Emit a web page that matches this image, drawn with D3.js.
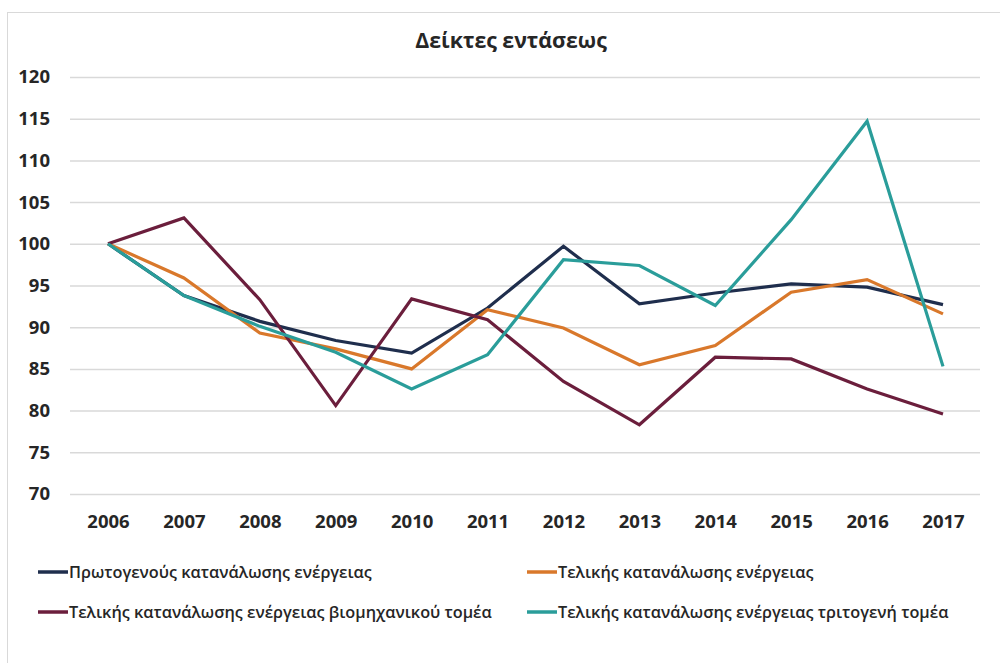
<!DOCTYPE html>
<html><head><meta charset="utf-8">
<script src="https://cdn.jsdelivr.net/npm/d3@7"></script>
<style>body{margin:0;background:#fff;}svg{display:block;font-family:"Open Sans",sans-serif;}</style>
</head><body><svg id="c" width="1000" height="663"></svg>
<script>
const years = ["2006","2007","2008","2009","2010","2011","2012","2013","2014","2015","2016","2017"];
const primary = [100, 93.8, 90.7, 88.4, 86.9, 92.3, 99.7, 92.8, 94.1, 95.2, 94.8, 92.7];
const finalTotal = [100, 95.9, 89.3, 87.4, 85.0, 92.1, 89.9, 85.5, 87.8, 94.2, 95.7, 91.6];
const industry = [100, 103.1, 93.3, 80.6, 93.4, 90.9, 83.5, 78.3, 86.4, 86.2, 82.6, 79.6];
const tertiary = [100, 93.8, 90.1, 87.0, 82.6, 86.7, 98.1, 97.4, 92.6, 102.9, 114.7, 85.3];
const yTicks = [70, 75, 80, 85, 90, 95, 100, 105, 110, 115, 120];
const seriesNames = ["Πρωτογενούς κατανάλωσης ενέργειας","Τελικής κατανάλωσης ενέργειας","Τελικής κατανάλωσης ενέργειας βιομηχανικού τομέα","Τελικής κατανάλωσης ενέργειας τριτογενή τομέα"];
const colors = ["#1f2e4d","#d9782b","#6b1e3c","#2a9d9a"];
const series = [primary, finalTotal, industry, tertiary];

const svg = d3.select("#c");
svg.append("rect").attr("x",7.5).attr("y",12.5).attr("width",1010).attr("height",700)
  .attr("fill","#fff").attr("stroke","#d9d9d9").attr("stroke-width",1);

const x = d3.scalePoint().domain(years).range([108, 943]);
const y = d3.scaleLinear().domain([70, 120]).range([494, 77]);

svg.append("text").attr("x",511).attr("y",48).attr("text-anchor","middle")
  .attr("font-size",21.3).attr("font-weight",700).attr("fill","#262626").text("Δείκτες εντάσεως");

const gy = svg.append("g").attr("transform","translate(70,0)")
  .call(d3.axisLeft(y).tickValues(yTicks).tickSize(-910).tickPadding(20).tickFormat(d3.format("d")));
gy.select(".domain").remove();
gy.selectAll(".tick line").attr("stroke","#d9d9d9").attr("stroke-width",1.5);
gy.selectAll(".tick text").attr("font-size",18.5).attr("font-weight",700).attr("fill","#262626")
  .attr("font-family","'Open Sans',sans-serif");

const gx = svg.append("g").attr("transform","translate(0,494)")
  .call(d3.axisBottom(x).tickSize(0).tickPadding(21));
gx.select(".domain").remove();
gx.selectAll(".tick text").attr("font-size",18.5).attr("font-weight",700).attr("fill","#262626")
  .attr("font-family","'Open Sans',sans-serif");

const line = d3.line().x((d,i)=>x(years[i])).y(d=>y(d));
series.forEach((s,k)=>{
  svg.append("path").datum(s).attr("d",line).attr("fill","none")
    .attr("stroke",colors[k]).attr("stroke-width",3.2).attr("stroke-linejoin","miter");
});

const legPos = [[38,572],[527,572],[38,612],[527,612]];
seriesNames.forEach((n,k)=>{
  const [lx,ly] = legPos[k];
  svg.append("line").attr("x1",lx).attr("x2",lx+30).attr("y1",ly).attr("y2",ly)
    .attr("stroke",colors[k]).attr("stroke-width",3.5);
  svg.append("text").attr("x",lx+31).attr("y",ly+5.5).attr("font-size",16.3).attr("font-weight",600)
    .attr("fill","#262626").text(n);
});
</script></body></html>
